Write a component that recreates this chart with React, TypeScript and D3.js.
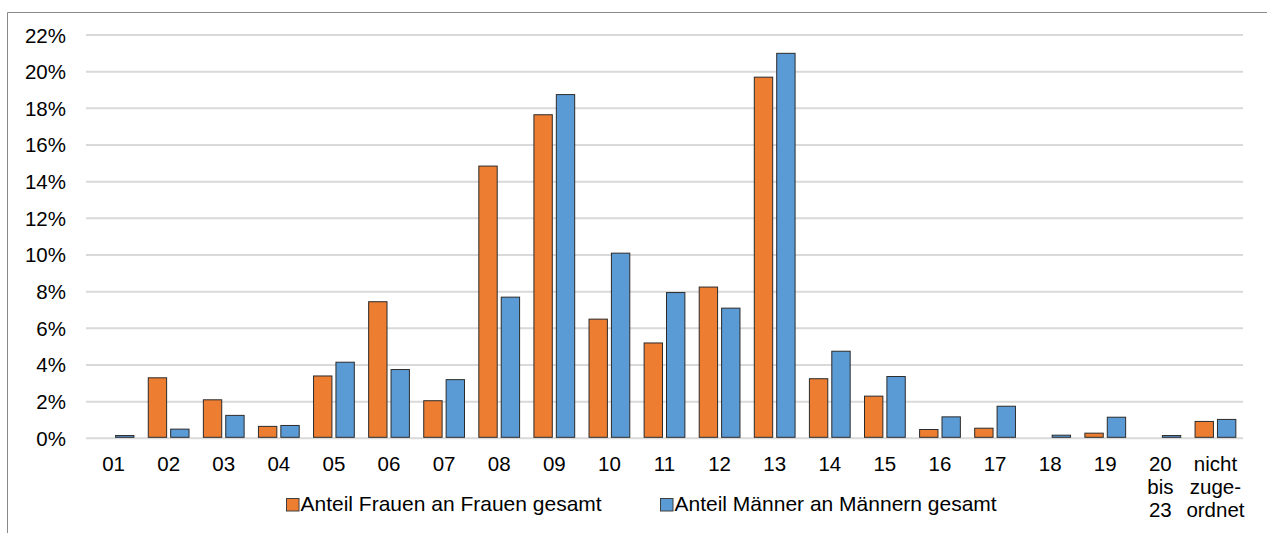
import React from "react";
import * as d3 from "d3";

// categories (Wirtschaftsabschnitte), multi-line labels split by "|"
const categories = ["01", "02", "03", "04", "05", "06", "07", "08", "09", "10", "11", "12", "13", "14", "15", "16", "17", "18", "19", "20|bis|23", "nicht|zuge-|ordnet"];

const frauen = [0, 3.3, 2.1, 0.65, 3.4, 7.45, 2.05, 14.85, 17.65, 6.5, 5.2, 8.25, 19.7, 3.25, 2.3, 0.48, 0.55, 0, 0.28, 0, 0.92];
const maenner = [0.15, 0.5, 1.25, 0.7, 4.15, 3.75, 3.2, 7.7, 18.75, 10.1, 7.95, 7.1, 21.0, 4.75, 3.37, 1.17, 1.75, 0.17, 1.15, 0.15, 1.03];

const seriesNames = ["Anteil Frauen an Frauen gesamt", "Anteil Männer an Männern gesamt"];
const seriesColors = ["#ED7D31", "#5B9BD5"];

const yTicks = [0, 2, 4, 6, 8, 10, 12, 14, 16, 18, 20, 22];

const W = 1267;
const H = 533;
const font = "'Liberation Sans', Arial, sans-serif";

export default function App() {
  const x = d3.scaleBand<string>().domain(categories).range([86, 1243]).padding(0);
  const inner = d3.scaleBand<number>().domain([0, 1]).range([0, x.bandwidth()]).paddingInner(0.18).paddingOuter(0.32);
  const y = d3.scaleLinear().domain([0, 22]).range([438.3, 35]);

  const series = [frauen, maenner];

  return (
    <svg width={W} height={H} style={{ position: "absolute", left: 0, top: 0, background: "#fff" }}>
      {/* chart frame */}
      <line x1={7.5} x2={7.5} y1={12.5} y2={H} stroke="#898989" strokeWidth={1} />
      <line x1={7.5} x2={W} y1={12.5} y2={12.5} stroke="#898989" strokeWidth={1} />

      {/* gridlines + y labels */}
      {yTicks.map((t) => (
        <g key={t}>
          <line x1={86} x2={1243} y1={y(t)} y2={y(t)} stroke="#d9d9d9" strokeWidth={2} />
          <text x={66} y={y(t) + 7.5} textAnchor="end" fontFamily={font} fontSize={20.5} fill="#000">
            {t}%
          </text>
        </g>
      ))}

      {/* bars */}
      {series.map((vals, si) =>
        vals.map((v, i) => {
          if (v <= 0) return null;
          const bx = (x(categories[i]) as number) + (inner(si) as number);
          return (
            <rect
              key={si + "-" + i}
              x={bx}
              y={y(v)}
              width={inner.bandwidth()}
              height={y(0) - y(v) - 1}
              fill={seriesColors[si]}
              stroke="#2b2b2b"
              strokeWidth={1}
            />
          );
        })
      )}

      {/* x labels */}
      {categories.map((c) => {
        const cx = (x(c) as number) + x.bandwidth() / 2;
        return (
          <text key={c} x={cx} y={471} textAnchor="middle" fontFamily={font} fontSize={20.5} fill="#000">
            {c.split("|").map((line, li) => (
              <tspan key={li} x={cx} dy={li === 0 ? 0 : 23}>
                {line}
              </tspan>
            ))}
          </text>
        );
      })}

      {/* legend */}
      {seriesNames.map((name, si) => {
        const lx = si === 0 ? 286 : 660;
        return (
          <g key={name}>
            <rect x={lx + 0.5} y={498.5} width={12.5} height={12.5} fill={seriesColors[si]} stroke="#404040" strokeWidth={1} />
            <text x={lx + 14.5} y={511} fontFamily={font} fontSize={21} fill="#000">
              {name}
            </text>
          </g>
        );
      })}
    </svg>
  );
}
